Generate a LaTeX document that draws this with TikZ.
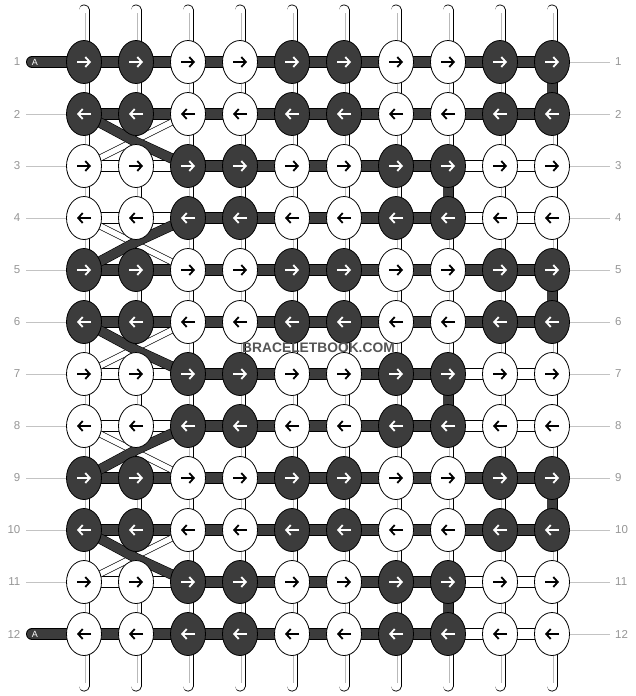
\documentclass[tikz,border=0pt]{standalone}
\usepackage{fontspec}
\setmainfont{Liberation Sans}
\usetikzlibrary{arrows.meta,shapes.geometric,backgrounds}

\definecolor{knotdark}{RGB}{60,60,60}
\definecolor{labelgray}{RGB}{150,150,150}
\definecolor{guidegray}{RGB}{195,195,195}
\definecolor{tubegray}{RGB}{185,185,185}
\definecolor{markgray}{RGB}{85,85,85}

\tikzset{
  knot/.style={ellipse, draw=black, line width=0.8pt, minimum width=35pt, minimum height=43pt, inner sep=0pt},
  dirarrow/.style={line width=1.8pt, -{Straight Barb[length=4.5pt,width=10pt]}},
  darkband/.style={draw=black, line width=0.8pt, double=knotdark, double distance=10.4pt},
  lightband/.style={draw=black, line width=0.8pt, double=white, double distance=10.4pt},
  warp/.style={draw=black, line width=0.8pt, double=white, double distance=9.4pt},
  warpline/.style={draw=tubegray, line width=0.8pt, double=white, double distance=1.4pt},
  darklink/.style={draw=black, line width=0.8pt, double=knotdark, double distance=9.4pt},
  weftlight/.style={draw=black, line width=0.7pt, double=white, double distance=5.5pt},
  weftdark/.style={draw=black, line width=0.6pt, double=knotdark, double distance=9pt},
  guide/.style={draw=guidegray, line width=1pt},
  rowlabel/.style={text=labelgray, inner sep=0pt, font=\fontsize{11.5}{13}\selectfont},
  wmtext/.style={inner sep=0pt, anchor=base, font=\bfseries\fontsize{13.8}{15}\selectfont}
}

\begin{document}
\begin{tikzpicture}[x=1pt,y=-1pt]
\useasboundingbox (0,0) rectangle (636,696);

% Knots
\foreach \r in {1,...,12} {
  \foreach \c in {1,...,10} {
    \pgfmathtruncatemacro{\shade}{mod(int((\c-1)/2)+int((\r-1)/2),2)}
    \ifnum\shade=0 \def\kfill{knotdark}\def\kink{white}\else \def\kfill{white}\def\kink{black}\fi
    \node[knot, fill=\kfill] (k-\r-\c) at ({32+52*\c},{10+52*\r}) {};
    \ifodd\r
      \draw[dirarrow, \kink] ([xshift=-7pt]k-\r-\c.center) -- ([xshift=7pt]k-\r-\c.center);
    \else
      \draw[dirarrow, \kink] ([xshift=7pt]k-\r-\c.center) -- ([xshift=-7pt]k-\r-\c.center);
    \fi
  }
}

% Strand ends and bends
\foreach \c in {1,...,10} {
  \coordinate (top-\c) at ({32+52*\c},10);
  \coordinate (bot-\c) at ({32+52*\c},686);
}
\coordinate (a-1) at (32,62);
\coordinate (a-12) at (32,634);
\foreach \b [count=\i] in {2,6,10} {
  \coordinate (dv-\i) at (136,{10+52*\b+28});
}
\foreach \b [count=\i] in {5,9} {
  \coordinate (uv-\i) at (136,{10+52*\b-28});
}

\begin{pgfonlayer}{background}
\fill[white] (0,0) rectangle (636,696);

% Warp threads
\foreach \c in {1,...,10} {
  \draw[warp, line cap=round] (top-\c) -- (k-1-\c.center);
  \draw[warp, line cap=round] (bot-\c) -- (k-12-\c.center);
  \draw[warpline] ([yshift=-3pt]top-\c) -- (k-1-\c.center);
  \draw[warpline] ([yshift=3pt]bot-\c) -- (k-12-\c.center);
}
\foreach \r [count=\s from 2] in {1,...,11} {
  \foreach \c in {1,...,10} {
    \pgfmathtruncatemacro{\vdark}{or(and(\c==10,mod(\r,4)==1),and(\c==8,mod(\r,4)==3))}
    \pgfmathtruncatemacro{\plainlink}{and(\c==10,mod(\r,4)==3)}
    \ifnum\vdark=1
      \draw[darklink] (k-\r-\c.center) -- (k-\s-\c.center);
    \else
      \draw[warp] (k-\r-\c.center) -- (k-\s-\c.center);
      \ifnum\plainlink=0 \draw[warpline] (k-\r-\c.center) -- (k-\s-\c.center); \fi
    \fi
  }
}

% Weft rows
\foreach \r in {1,...,12} {
  \foreach \c [count=\n from 2] in {1,...,9} {
    \pgfmathtruncatemacro{\lt}{and(mod(int((\r-1)/2),2)==1, or(\c>=8, and(\c<=2,\r<12)))}
    \ifnum\lt=1
      \draw[lightband] (k-\r-\c.center) -- (k-\r-\n.center);
    \else
      \draw[darkband] (k-\r-\c.center) -- (k-\r-\n.center);
    \fi
  }
}
\draw[darkband, line cap=round] (a-1) -- (k-1-1.center);
\draw[darkband, line cap=round] (a-12) -- (k-12-1.center);

% Crossing threads on the left
\draw[weftlight] (k-3-1.center) -- (k-2-3.center);
\draw[weftlight] (k-7-1.center) -- (k-6-3.center);
\draw[weftlight] (k-11-1.center) -- (k-10-3.center);
\draw[weftlight] (k-4-1.center) -- (k-5-3.center);
\draw[weftlight] (k-8-1.center) -- (k-9-3.center);
\draw[weftdark] (k-2-1.center) -- (dv-1) -- (k-3-3.center);
\draw[weftdark] (k-6-1.center) -- (dv-2) -- (k-7-3.center);
\draw[weftdark] (k-10-1.center) -- (dv-3) -- (k-11-3.center);
\draw[weftdark] (k-4-3.center) -- (uv-1) -- (k-5-1.center);
\draw[weftdark] (k-8-3.center) -- (uv-2) -- (k-9-1.center);
\end{pgfonlayer}

% Row numbers
\foreach \r in {1,...,12} {
  \node[rowlabel, anchor=east] (ll-\r) at (20.5,{10+52*\r}) {\r};
  \node[rowlabel, anchor=west] (rl-\r) at (615,{10+52*\r}) {\r};
  \coordinate (gr-\r) at (610,{10+52*\r});
  \draw[guide] (k-\r-10.east) -- (gr-\r);
}
\foreach \r in {2,...,11} {
  \coordinate (gl-\r) at (26,{10+52*\r});
  \draw[guide] (gl-\r) -- (k-\r-1.west);
}
\node[text=white, inner sep=0pt, font=\fontsize{9}{10}\selectfont] (t-1) at (35,62) {A};
\node[text=white, inner sep=0pt, font=\fontsize{9}{10}\selectfont] (t-12) at (35,634) {A};

% Watermark
\node[wmtext, text=markgray] (wm) at (318.5,352.5) {BRACELETBOOK.COM};
\end{tikzpicture}
\end{document}
